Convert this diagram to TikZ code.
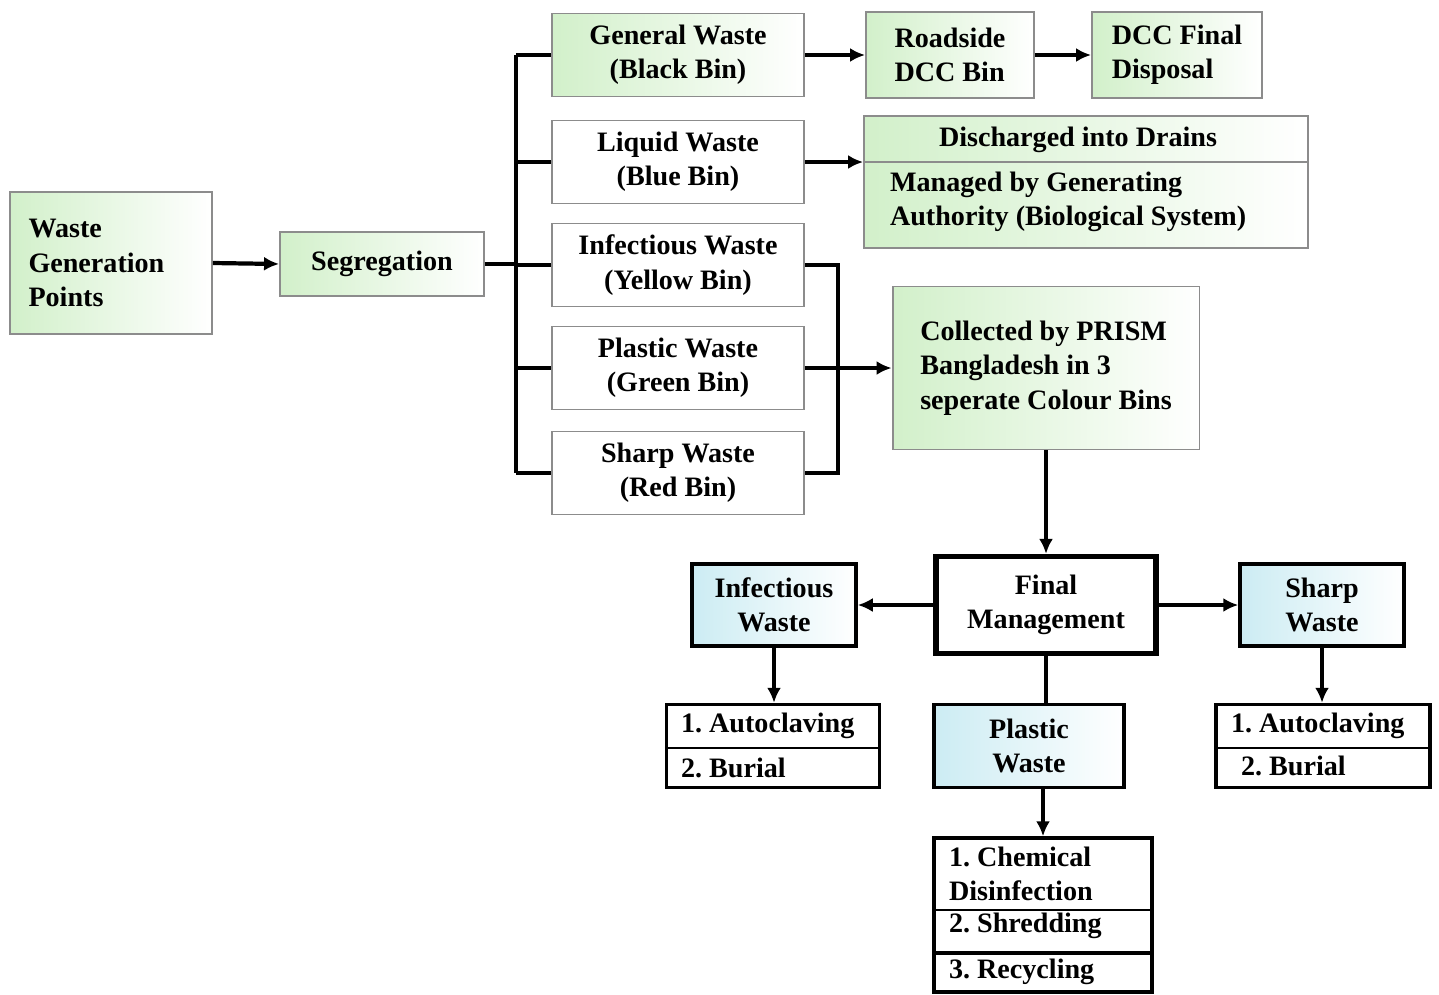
\documentclass[tikz,border=0pt]{standalone}
\usepackage{fontspec}
\setmainfont{Liberation Serif}
\usetikzlibrary{arrows.meta, positioning, calc}
\definecolor{cgreen}{HTML}{D2F0CA}
\definecolor{cblue}{HTML}{CCECF3}
\definecolor{cgrey}{HTML}{8C8C8C}
\tikzset{
  every picture/.style={font=\fontsize{16}{19.5}\selectfont\bfseries\frenchspacing, line width=1.2pt},
  box/.style={draw=cgrey, line width=1.1pt, left color=#1, right color=white, align=center, inner sep=4pt},
  box/.default=cgreen,
  plain/.style={draw=cgrey, line width=1.1pt, fill=white, align=center, inner sep=4pt},
  link/.style={draw=black, line width=2.4pt},
  arrow/.style={link, -{Latex[length=3mm,width=2.8mm]}},
  txt/.style={inner sep=0pt, align=left},
}

\begin{document}
\begin{tikzpicture}[x=0.02cm, y=-0.02cm,
  g/.style={box=cgreen},
  b/.style={box=cblue, draw=black, line width=2pt},
  w/.style={draw=black, line width=2pt, fill=white, align=center, inner sep=4pt}]
  \useasboundingbox (0,0) rectangle (1439,994);
  % source and segregation
  \node[g, minimum width=4.04cm, minimum height=2.84cm, align=left, text width=3.3cm] (wgp) at (111,263) {Waste\\Generation\\Points};
  \node[g, minimum width=4.08cm, minimum height=1.28cm] (seg) at (382,264) {Segregation};
  % colour bins
  \node[g, minimum width=5.04cm, minimum height=1.66cm] (gen) at (678,55) {General Waste\\(Black Bin)};
  \node[plain, minimum width=5.04cm, minimum height=1.66cm] (liq) at (678,162) {Liquid Waste\\(Blue Bin)};
  \node[plain, minimum width=5.04cm, minimum height=1.66cm] (inf) at (678,265) {Infectious Waste\\(Yellow Bin)};
  \node[plain, minimum width=5.04cm, minimum height=1.66cm] (pla) at (678,368) {Plastic Waste\\(Green Bin)};
  \node[plain, minimum width=5.04cm, minimum height=1.66cm] (shp) at (678,473) {Sharp Waste\\(Red Bin)};
  % general and liquid routes
  \node[g, minimum width=3.36cm, minimum height=1.72cm, align=left] (road) at (950,55) {Roadside\\DCC Bin};
  \node[g, minimum width=3.4cm, minimum height=1.72cm, align=left] (dcc) at (1177,55) {DCC Final\\Disposal};
  \node[g, minimum width=8.88cm, minimum height=2.64cm] (dis) at (1086,182) {};
  \node[txt] (disA) at (1078,140) {Discharged into Drains};
  \node[txt, anchor=west] (disB) at (889,202) {Managed by Generating\\Authority (Biological System)};
  \draw[cgrey, line width=1.1pt] (dis.west |- 0,162) -- (dis.east |- 0,162);
  \node[g, minimum width=6.14cm, minimum height=3.26cm, align=left] (col) at (1046,368) {Collected by PRISM\\Bangladesh in 3\\seperate Colour Bins};
  \draw[link] (seg.east) -- (516,264) coordinate (lb);
  \draw[link] (lb |- gen.west) -- (lb |- shp.west);
  \foreach \n in {gen,liq,inf,pla,shp} \draw[link] (lb |- \n.west) -- (\n.west);
  \draw[arrow] (wgp.east) -- (seg.west);
  \draw[arrow] (gen.east) -- (road.west);
  \draw[arrow] (road.east) -- (dcc.west);
  \draw[arrow] (liq.east) -- (dis.west |- liq.east);
  \coordinate (rb) at (838,368);
  \draw[link] (inf.east) -| (rb) |- (shp.east);
  \draw[arrow] (pla.east) -- (col.west);
  % final management
  \node[w, line width=3pt, minimum width=4.4cm, minimum height=1.94cm] (fm) at (1046,605) {Final\\Management};
  \node[b, minimum width=3.28cm, minimum height=1.64cm] (linf) at (774,605) {Infectious\\Waste};
  \node[b, minimum width=3.28cm, minimum height=1.64cm] (lshp) at (1322,605) {Sharp\\Waste};
  \node[b, minimum width=3.8cm, minimum height=1.66cm] (lpla) at (1029,746) {Plastic\\Waste};
  \draw[arrow] (col.south) -- (fm.north);
  \draw[arrow] (fm.west) -- (linf.east);
  \draw[arrow] (fm.east) -- (lshp.west);
  \draw[link] (fm.south) -- (fm.south |- lpla.north);
  % treatment lists
  \node[w, minimum width=4.26cm, minimum height=1.66cm] (ainf) at (773,746) {};
  \node[txt, anchor=west] (ainf1) at (680,726) {1. Autoclaving};
  \node[txt, anchor=west] (ainf2) at (680,768) {2. Burial};
  \draw[line width=1.1pt] (ainf.west |- 0,748) -- (ainf.east |- 0,748);
  \node[w, minimum width=4.28cm, minimum height=1.66cm] (ashp) at (1323,746) {};
  \node[txt, anchor=west] (ashp1) at (1230,726) {1. Autoclaving};
  \node[txt, anchor=west] (ashp2) at (1240,766) {2. Burial};
  \draw[line width=1.1pt] (ashp.west |- 0,748) -- (ashp.east |- 0,748);
  \node[w, minimum width=4.36cm, minimum height=3.08cm] (apla) at (1043,915) {};
  \node[txt, anchor=west] (apla1) at (948,874) {1. Chemical\\Disinfection};
  \node[txt, anchor=west] (apla2) at (948,926) {2. Shredding};
  \node[txt, anchor=west] (apla3) at (948,972) {3. Recycling};
  \draw[line width=1.1pt] (apla.west |- 0,910) -- (apla.east |- 0,910);
  \draw[line width=2pt] (apla.west |- 0,953) -- (apla.east |- 0,953);
  \draw[arrow] (linf.south) -- (ainf.north -| linf.south);
  \draw[arrow] (lshp.south) -- (ashp.north -| lshp.south);
  \draw[arrow] (lpla.south -| apla.north) -- (apla.north);
\end{tikzpicture}
\end{document}
